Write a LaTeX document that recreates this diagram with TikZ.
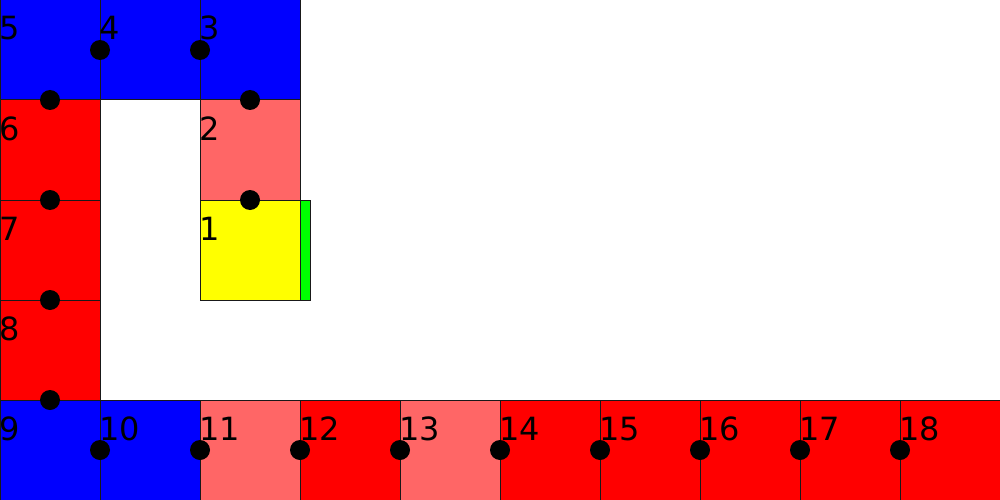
\documentclass[tikz,border=0pt]{standalone}
\usepackage{fontspec}
\setmainfont{DejaVu Sans}
\definecolor{cblue}{HTML}{0000FF}
\definecolor{cred}{HTML}{FF0000}
\definecolor{clight}{HTML}{FF6666}
\definecolor{cyel}{HTML}{FFFF00}
\definecolor{cgreen}{HTML}{00FF00}
\begin{document}
\begin{tikzpicture}[x=1pt,y=-1pt,
  cell/.style={draw=black!90,line width=1pt,inner sep=0pt,outer sep=0pt,minimum size=100pt,anchor=north west},
  lbl/.style={inner sep=0pt,anchor=base west,font=\fontsize{32}{32}\selectfont},
  dot/.style={circle,fill=black,inner sep=0pt,minimum size=20pt}]
\useasboundingbox (0,0) rectangle (1000,500);
\foreach \n/\x/\y/\c in {5/0/0/cblue,4/100/0/cblue,3/200/0/cblue,
  6/0/100/cred,2/200/100/clight,7/0/200/cred,1/200/200/cyel,8/0/300/cred,
  9/0/400/cblue,10/100/400/cblue,11/200/400/clight,12/300/400/cred,
  13/400/400/clight,14/500/400/cred,15/600/400/cred,16/700/400/cred,
  17/800/400/cred,18/900/400/cred}{
  \node[cell,fill=\c] (s\n) at (\x,\y) {};
}
\node[draw=black!90,line width=1pt,fill=cgreen,inner sep=0pt,outer sep=0pt,minimum width=10pt,minimum height=100pt,anchor=north west] (g) at (300,200) {};
\foreach \i/\x/\y in {a/100/50,b/200/50,c/50/100,d/250/100,e/50/200,f/250/200,g/50/300,h/50/400,
  i/100/450,j/200/450,k/300/450,l/400/450,m/500/450,n/600/450,o/700/450,p/800/450,q/900/450}{
  \node[dot] (d\i) at (\x,\y) {};
}
\foreach \n/\x/\y in {5/0/0,4/100/0,3/200/0,6/0/100,2/200/100,7/0/200,1/200/200,8/0/300,
  9/0/400,10/100/400,11/200/400,12/300/400,13/400/400,14/500/400,15/600/400,16/700/400,17/800/400,18/900/400}{
  \node[lbl] (t\n) at (\x-1,\y+40) {\n};
}
\end{tikzpicture}
\end{document}
